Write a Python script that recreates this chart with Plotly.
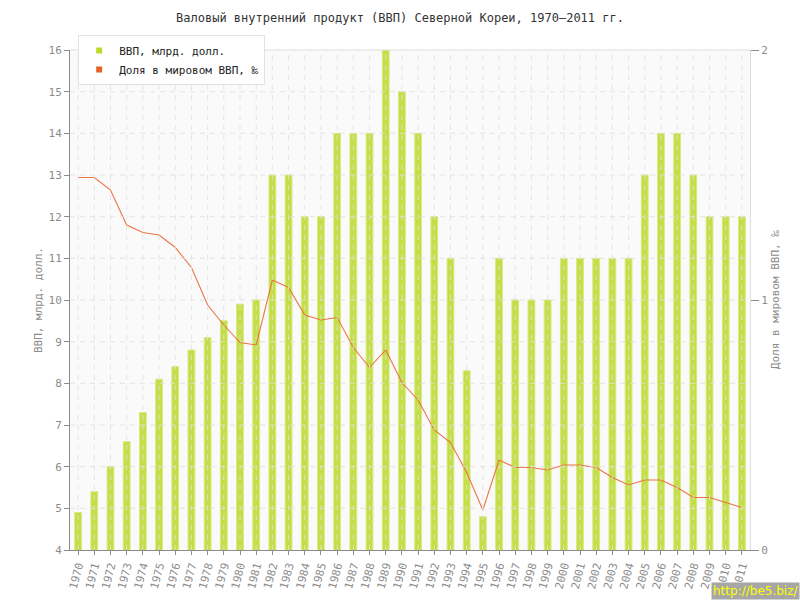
import plotly.graph_objects as go

# Data
years = list(range(1970, 2012))
gdp_bn_usd = [4.9, 5.4, 6.0, 6.6, 7.3, 8.1, 8.4, 8.8, 9.1, 9.5, 9.9, 10.0,
              13, 13, 12, 12, 14, 14, 14, 16, 15, 14, 12, 11, 8.3, 4.8,
              11, 10, 10, 10, 11, 11, 11, 11, 11, 13, 14, 14, 13, 12, 12, 12]
world_share_permille = [1.49, 1.49, 1.44, 1.30, 1.27, 1.26, 1.21, 1.13, 0.98,
                        0.90, 0.83, 0.82, 1.08, 1.05, 0.94, 0.92, 0.93, 0.81,
                        0.73, 0.80, 0.67, 0.60, 0.48, 0.43, 0.31, 0.16, 0.36,
                        0.33, 0.33, 0.32, 0.34, 0.34, 0.33, 0.29, 0.26, 0.28,
                        0.28, 0.25, 0.21, 0.21, 0.19, 0.17]
gdp_ticks = list(range(4, 17))

FONT = "DejaVu Sans Mono"
GREEN = "#c3df45"
ORANGE = "#eb7443"
GREY = "#8c8c8c"
GRID = "rgba(225,225,225,0.85)"

fig = go.Figure()
fig.add_trace(go.Bar(
    x=years, y=gdp_bn_usd, name="ВВП, млрд. долл.", showlegend=False,
    marker=dict(color=GREEN, line=dict(color="#d6ea85", width=1)),
    width=0.42,
))
fig.add_trace(go.Scatter(
    x=years, y=world_share_permille, yaxis="y2", mode="lines",
    line=dict(color=ORANGE, width=1.1), showlegend=False,
    name="Доля в мировом ВВП, ‰",
))
# legend-only entries so the legend shows small square markers
fig.add_trace(go.Scatter(
    x=[None], y=[None], mode="markers", name="ВВП, млрд. долл.",
    marker=dict(symbol="square", size=6, color="#bcdc2c"),
))
fig.add_trace(go.Scatter(
    x=[None], y=[None], mode="markers", name="Доля в мировом ВВП, ‰",
    marker=dict(symbol="square", size=6, color="#e8602a"),
))

# dashed grid drawn over the bars, as in the original
for yr in years:
    fig.add_shape(type="line", xref="x", yref="paper", x0=yr, x1=yr, y0=0, y1=1,
                  layer="above", line=dict(color=GRID, width=1, dash="5px,5px"))
for v in gdp_ticks[1:-1]:
    fig.add_shape(type="line", xref="paper", yref="y", x0=0, x1=1, y0=v, y1=v,
                  layer="above", line=dict(color=GRID, width=1, dash="5px,5px"))
fig.add_shape(type="line", xref="paper", yref="paper", x0=0, x1=1, y0=1, y1=1,
              line=dict(color="#dddddd", width=1))

fig.update_layout(
    width=800, height=600,
    margin=dict(l=70, r=50, t=50, b=50),
    paper_bgcolor="white", plot_bgcolor="#fafafa",
    font=dict(family=FONT, size=11, color=GREY),
    title=dict(text="Валовый внутренний продукт (ВВП) Северной Кореи, 1970–2011 гг.",
               x=0.5, xanchor="center", y=0.97, yanchor="middle",
               font=dict(family=FONT, size=12, color="#333333")),
    legend=dict(x=0.012, y=1.03, xanchor="left", yanchor="top",
                bgcolor="white", bordercolor="#e2e2e2", borderwidth=1,
                font=dict(family=FONT, size=11, color="#222222"),
                tracegroupgap=0, itemwidth=30),
    xaxis=dict(range=[years[0] - 0.5, years[-1] + 0.5], tickvals=years,
               tickangle=-75, showline=True, linecolor=GREY,
               ticks="outside", ticklen=4, tickcolor=GREY, automargin=False,
               showgrid=False, zeroline=False,
               tickfont=dict(family=FONT, size=11, color=GREY)),
    yaxis=dict(range=[4, 16], tickvals=gdp_ticks, showline=True, linecolor=GREY,
               ticks="outside", ticklen=5, tickcolor=GREY, automargin=False,
               showgrid=False, zeroline=False),
    yaxis2=dict(range=[0, 2], dtick=1, overlaying="y", side="right",
                showline=True, linecolor="#dddddd", ticks="outside", ticklen=8,
                tickcolor=GREY, showgrid=False, zeroline=False, automargin=False),
)

# axis titles placed as annotations to match the original positions
fig.add_annotation(text="ВВП, млрд. долл.", xref="paper", yref="paper",
                   x=-0.047, y=0.5, xanchor="center", yanchor="middle",
                   textangle=-90, showarrow=False,
                   font=dict(family=FONT, size=11, color=GREY))
fig.add_annotation(text="Доля в мировом ВВП, ‰", xref="paper", yref="paper",
                   x=1.037, y=0.5, xanchor="center", yanchor="middle",
                   textangle=-90, showarrow=False,
                   font=dict(family=FONT, size=11, color=GREY))

fig.add_annotation(text="http://be5.biz/", xref="paper", yref="paper",
                   x=1.0735, y=-0.1, xanchor="right", yanchor="bottom",
                   showarrow=False, bgcolor="#a6a6a6", borderpad=1,
                   font=dict(family="DejaVu Sans", size=12, color="#ffff00"))

fig.write_html("out.html", config={"displayModeBar": False},
               post_script="document.body.style.margin='0px';")
